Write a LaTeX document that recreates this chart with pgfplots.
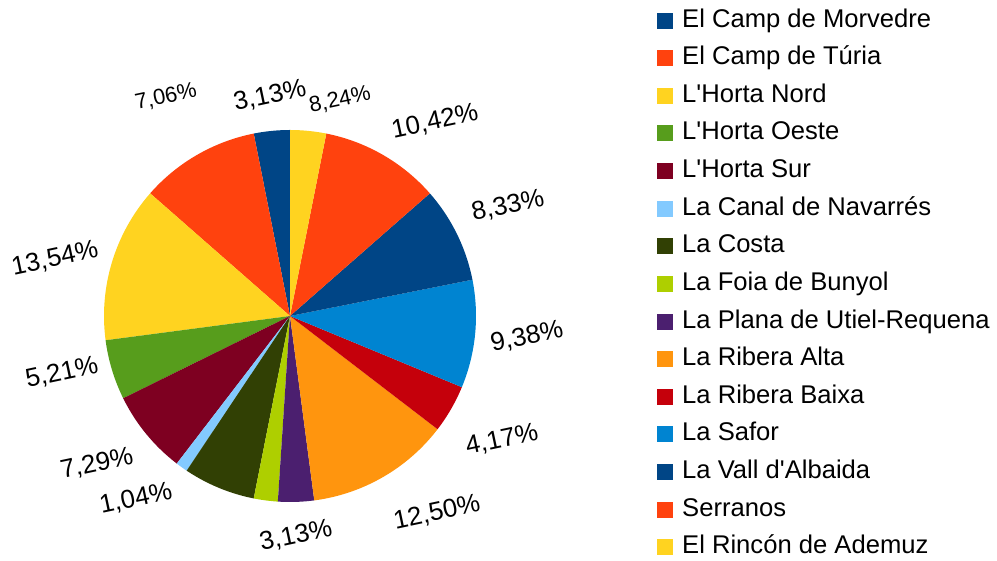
\documentclass[border=0pt]{standalone}
\usepackage{pgfplots}
\usepackage{pgfplotstable}
\pgfplotsset{compat=1.18}
\usepackage{fontspec}
\setmainfont{Liberation Sans}[Ligatures=TeXOff]

\definecolor{c1}{HTML}{004586}
\definecolor{c2}{HTML}{FF420E}
\definecolor{c3}{HTML}{FFD320}
\definecolor{c4}{HTML}{579D1C}
\definecolor{c5}{HTML}{7E0021}
\definecolor{c6}{HTML}{83CAFF}
\definecolor{c7}{HTML}{314004}
\definecolor{c8}{HTML}{AECF00}
\definecolor{c9}{HTML}{4B1F6F}
\definecolor{c10}{HTML}{FF950E}
\definecolor{c11}{HTML}{C5000B}
\definecolor{c12}{HTML}{0084D1}

% counts per comarca (total 96)
\pgfplotstableread[col sep=comma]{
name,v,c
El Camp de Morvedre,3,c1
El Camp de Túria,10,c2
L'Horta Nord,13,c3
L'Horta Oeste,5,c4
L'Horta Sur,7,c5
La Canal de Navarrés,1,c6
La Costa,6,c7
La Foia de Bunyol,2,c8
La Plana de Utiel-Requena,3,c9
La Ribera Alta,12,c10
La Ribera Baixa,4,c11
La Safor,9,c12
La Vall d'Albaida,8,c1
Serranos,10,c2
El Rincón de Ademuz,3,c3
}\data

\begin{document}
\begin{tikzpicture}
\begin{axis}[
  hide axis, scale only axis,
  width=997bp, height=560bp,
  xmin=0, xmax=997, ymin=0, ymax=560,
  clip=false,
  legend image code/.code={\fill[#1] (0bp,-8bp) rectangle (16bp,8bp);},
  legend cell align=left,
  legend style={draw=none, fill=none, inner sep=0pt, at={(axis cs:657,551)}, anchor=north west,
    font=\fontsize{25.7}{30}\selectfont,
    nodes={inner sep=0pt, text height=18bp, text depth=5bp},
    row sep=14.6bp,
    /tikz/every odd column/.append style={column sep=9bp}},
]
\path (axis cs:0,0) rectangle (axis cs:997,560);
\def\cum{0}
\pgfplotsforeachungrouped \i in {0,...,14}{
  \pgfplotstablegetelem{\i}{v}\of\data \let\sv\pgfplotsretval
  \pgfplotstablegetelem{\i}{c}\of\data \let\sc\pgfplotsretval
  \pgfplotstablegetelem{\i}{name}\of\data \let\nm\pgfplotsretval
  \pgfmathsetmacro\a{90+3.75*\cum}
  \pgfmathsetmacro\b{90+3.75*(\cum+\sv)}
  \pgfmathsetmacro\cum{\cum+\sv}
  \edef\cmd{\noexpand\fill[\sc] (axis cs:290,244) -- (axis cs:{290+186*cos(\a)},{244+186*sin(\a)})
    arc[start angle=\a, end angle=\b, radius=186bp] -- cycle;
    \noexpand\addlegendimage{fill=\sc, draw=none}\noexpand\addlegendentry{\nm}}
  \cmd
}
\begin{scope}[every node/.style={rotate=12, inner sep=0pt, font=\fontsize{26}{30}\selectfont}]
\node at (axis cs:270,464) {3,13\%};
\node at (axis cs:435,438) {10,42\%};
\node at (axis cs:508,354) {8,33\%};
\node at (axis cs:527,223) {9,38\%};
\node at (axis cs:502,120) {4,17\%};
\node at (axis cs:437,47) {12,50\%};
\node at (axis cs:296,24) {3,13\%};
\node at (axis cs:136,61) {1,04\%};
\node at (axis cs:97,96) {7,29\%};
\node at (axis cs:62,187) {5,21\%};
\node at (axis cs:55,301) {13,54\%};
\end{scope}
\begin{scope}[every node/.style={rotate=12, inner sep=0pt, font=\fontsize{22}{26}\selectfont}]
\node at (axis cs:166,463) {7,06\%};
\node at (axis cs:340,460) {8,24\%};
\end{scope}
\end{axis}
\end{tikzpicture}
\end{document}
